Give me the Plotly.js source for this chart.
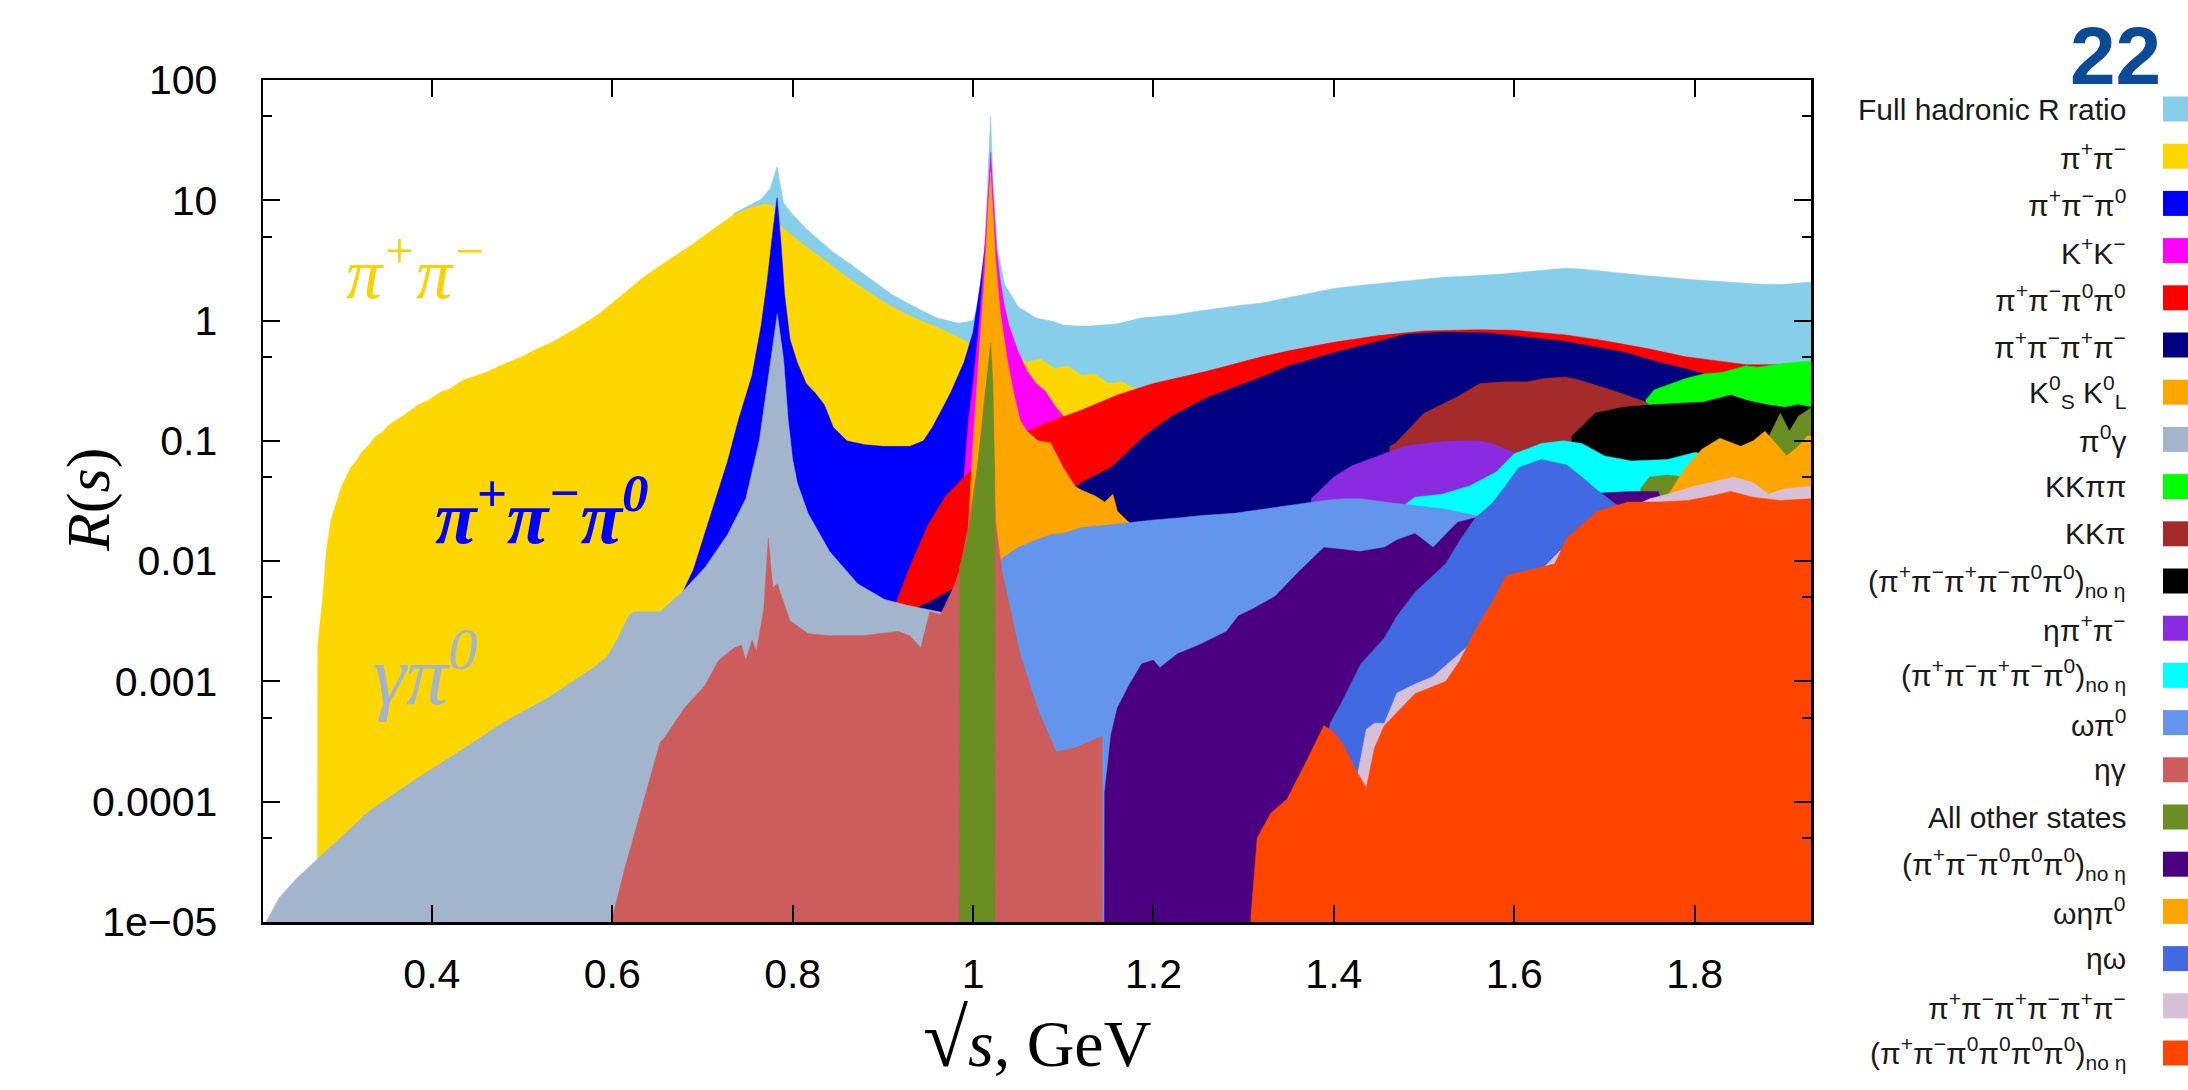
<!DOCTYPE html>
<html><head><meta charset="utf-8">
<script src="https://cdn.plot.ly/plotly-3.0.1.min.js"></script>
<style>html,body{margin:0;padding:0;background:#fff;}#chart{width:2188px;height:1090px;}</style>
</head><body><div id="chart"></div>
<script>
// ---------------- data ----------------
const legendLabels = [
 'Full hadronic R ratio',
 'π<sup>+</sup>π<sup>−</sup>',
 'π<sup>+</sup>π<sup>−</sup>π<sup>0</sup>',
 'K<sup>+</sup>K<sup>−</sup>',
 'π<sup>+</sup>π<sup>−</sup>π<sup>0</sup>π<sup>0</sup>',
 'π<sup>+</sup>π<sup>−</sup>π<sup>+</sup>π<sup>−</sup>',
 'K<sup>0</sup><sub>S</sub> K<sup>0</sup><sub>L</sub>',
 'π<sup>0</sup>γ',
 'KKππ',
 'KKπ',
 '(π<sup>+</sup>π<sup>−</sup>π<sup>+</sup>π<sup>−</sup>π<sup>0</sup>π<sup>0</sup>)<sub>no η</sub>',
 'ηπ<sup>+</sup>π<sup>−</sup>',
 '(π<sup>+</sup>π<sup>−</sup>π<sup>+</sup>π<sup>−</sup>π<sup>0</sup>)<sub>no η</sub>',
 'ωπ<sup>0</sup>',
 'ηγ',
 'All other states',
 '(π<sup>+</sup>π<sup>−</sup>π<sup>0</sup>π<sup>0</sup>π<sup>0</sup>)<sub>no η</sub>',
 'ωηπ<sup>0</sup>',
 'ηω',
 'π<sup>+</sup>π<sup>−</sup>π<sup>+</sup>π<sup>−</sup>π<sup>+</sup>π<sup>−</sup>',
 '(π<sup>+</sup>π<sup>−</sup>π<sup>0</sup>π<sup>0</sup>π<sup>0</sup>π<sup>0</sup>)<sub>no η</sub>'
];
const seriesColors = ['#87ceeb','#ffd700','#0000ff','#ff00ff','#ff0000','#000080','#ffa500','#a2b5cd','#00ff00','#a52a2a','#000000','#8a2be2','#00ffff','#6495ed','#cd5c5c','#6b8e23','#4b0082','#ffa500','#4169e1','#d8bfd8','#ff4500'];

const fullR_x = [0.725,0.735,0.75,0.765,0.775,0.7827,0.79,0.8,0.815,0.83,0.845,0.86,0.885,0.91,0.935,0.96,0.985,1.0,1.008,1.013,1.017,1.0195,1.022,1.027,1.035,1.05,1.07,1.09,1.1,1.115,1.13,1.145,1.16,1.186,1.2,1.225,1.25,1.275,1.3,1.32,1.35,1.375,1.4,1.425,1.455,1.475,1.5,1.525,1.55,1.575,1.59,1.625,1.656,1.675,1.7,1.725,1.75,1.775,1.8,1.825,1.85,1.875,1.9,1.915,1.93];
const fullR_y = [6.0,7.8,8.9,10.2,12.5,19,9.5,7.6,5.8,4.6,3.7,3.1,2.25,1.65,1.3,1.05,0.95,1.0,1.5,4,20,50,15,4,2,1.3,1.05,0.98,0.92,0.9,0.9,0.92,0.94,1.05,1.08,1.12,1.2,1.28,1.35,1.4,1.55,1.7,1.85,1.95,2.05,2.1,2.2,2.3,2.35,2.4,2.45,2.6,2.72,2.68,2.55,2.45,2.35,2.25,2.18,2.12,2.05,2.0,2.0,2.05,2.1];

const pipi_x = [0.2725,0.2735,0.279,0.283,0.288,0.295,0.300,0.305,0.31,0.315,0.322,0.33,0.338,0.345,0.352,0.36,0.37,0.385,0.395,0.41,0.42,0.435,0.45,0.46,0.475,0.485,0.5,0.51,0.525,0.535,0.55,0.56,0.585,0.61,0.635,0.66,0.685,0.71,0.735,0.755,0.77,0.779,0.784,0.79,0.81,0.835,0.86,0.885,0.91,0.935,0.96,0.985,1.0,1.01,1.02,1.03,1.045,1.06,1.075,1.09,1.105,1.12,1.135,1.15,1.165,1.18,1.2,1.25];
const pipi_y = [1e-9,0.002,0.005,0.012,0.022,0.033,0.042,0.05,0.06,0.066,0.08,0.092,0.11,0.118,0.135,0.148,0.165,0.2,0.215,0.255,0.27,0.32,0.35,0.37,0.42,0.45,0.5,0.55,0.62,0.67,0.78,0.86,1.13,1.6,2.3,3.1,4.1,5.6,7.6,8.8,9.3,9.0,6.5,5.8,4.4,3.2,2.3,1.7,1.3,1.05,0.88,0.72,0.62,0.55,0.5,0.55,0.52,0.45,0.48,0.4,0.42,0.35,0.36,0.3,0.31,0.27,0.25,0.2];

const pipipi0_x = [0.6,0.65,0.69,0.71,0.728,0.74,0.755,0.765,0.772,0.778,0.7827,0.787,0.791,0.797,0.805,0.815,0.825,0.835,0.845,0.86,0.88,0.9,0.93,0.945,0.955,0.965,0.975,0.99,1.0,1.008,1.014,1.0195,1.025,1.03,1.04,1.06,1.1,1.2,1.4,1.6,1.8,1.93];
const pipipi0_y = [5e-4,2e-3,0.0085,0.025,0.068,0.15,0.35,0.9,2.2,5.5,10.5,4.5,1.66,0.7,0.45,0.3,0.25,0.2,0.13,0.1,0.093,0.09,0.09,0.1,0.13,0.18,0.25,0.45,0.8,2.0,4.5,7,2,0.5,0.2,0.1,0.07,0.05,0.04,0.05,0.02,0.015];

const kk_x = [0.988,0.99,0.995,1.0,1.005,1.008,1.013,1.017,1.0195,1.022,1.026,1.03,1.035,1.04,1.05,1.06,1.07,1.08,1.09,1.1,1.12,1.2,1.5,1.93];
const kk_y = [1e-9,0.05,0.15,0.3,0.7,1.2,4,14,25,12,4,2.2,1.3,0.9,0.55,0.38,0.3,0.26,0.2,0.16,0.13,0.1,0.05,0.03];

const pipi2pi0_x = [0.91,0.912,0.93,0.95,0.97,0.99,1.02,1.05,1.08,1.12,1.16,1.2,1.26,1.32,1.35,1.4,1.45,1.5,1.56,1.6,1.657,1.7,1.75,1.79,1.857,1.9,1.93];
const pipi2pi0_y = [1e-9,0.004,0.009,0.02,0.035,0.05,0.08,0.11,0.14,0.18,0.24,0.3,0.38,0.5,0.56,0.66,0.75,0.82,0.84,0.83,0.76,0.68,0.58,0.5,0.43,0.43,0.44];

const fourpi_x = [0.913,0.915,0.95,0.98,1.0,1.03,1.06,1.09,1.12,1.153,1.19,1.22,1.26,1.32,1.35,1.4,1.455,1.48,1.52,1.57,1.62,1.657,1.724,1.76,1.8,1.82,1.85,1.9,1.93];
const fourpi_y = [1e-9,0.0035,0.0045,0.006,0.008,0.01,0.018,0.03,0.045,0.06,0.11,0.16,0.23,0.34,0.42,0.54,0.69,0.77,0.8,0.79,0.72,0.67,0.54,0.45,0.38,0.34,0.3,0.25,0.22];

const kskl_x = [0.993,0.995,1.0,1.005,1.008,1.013,1.017,1.0195,1.022,1.025,1.03,1.038,1.045,1.052,1.06,1.072,1.086,1.1,1.113,1.12,1.135,1.146,1.155,1.16,1.173,1.18,1.185];
const kskl_y = [1e-9,0.02,0.1,0.35,0.7,2.5,9,17,8,3.2,1.2,0.47,0.25,0.15,0.12,0.1,0.096,0.06,0.042,0.039,0.035,0.031,0.036,0.026,0.021,0.012,1e-9];

const pi0gamma_x = [0.2128,0.231,0.25,0.281,0.33,0.38,0.43,0.48,0.529,0.579,0.594,0.605,0.619,0.625,0.653,0.678,0.703,0.728,0.748,0.763,0.7756,0.783,0.79,0.795,0.8,0.805,0.817,0.841,0.872,0.902,0.927,0.96,0.985,1.005,1.013,1.0195,1.025,1.035,1.06,1.2,1.5,1.93];
const pi0gamma_y = [9e-6,1.6e-5,2.3e-5,3.8e-5,8.3e-5,1.5e-4,2.6e-4,4.6e-4,7.3e-4,1.3e-3,1.6e-3,2.2e-3,3.6e-3,3.8e-3,3.8e-3,5.6e-3,8.9e-3,0.0167,0.033,0.1,0.47,1.14,0.47,0.15,0.07,0.045,0.025,0.012,6.5e-3,4.8e-3,4.3e-3,3.8e-3,3.5e-3,5e-3,0.015,0.06,0.012,3.5e-3,3e-3,2e-3,1e-3,6e-4];

const kkpipi_x = [1.74,1.746,1.755,1.77,1.79,1.81,1.83,1.857,1.87,1.89,1.91,1.93];
const kkpipi_y = [1e-9,0.22,0.265,0.29,0.33,0.36,0.37,0.42,0.41,0.43,0.45,0.46];

const kkpi_x = [1.46,1.462,1.468,1.5,1.536,1.562,1.59,1.614,1.633,1.657,1.672,1.711,1.746,1.76,1.8,1.93];
const kkpi_y = [1e-9,0.09,0.095,0.17,0.23,0.3,0.31,0.31,0.33,0.34,0.32,0.26,0.21,0.17,0.15,0.12];

const sixpi2pi0_x = [1.66,1.664,1.69,1.72,1.755,1.78,1.81,1.84,1.86,1.88,1.9,1.915,1.93];
const sixpi2pi0_y = [1e-9,0.11,0.17,0.19,0.2,0.205,0.21,0.24,0.215,0.2,0.19,0.2,0.19];

const etapipi_x = [1.37,1.375,1.4,1.42,1.443,1.478,1.51,1.536,1.56,1.575,1.6,1.65,1.7,1.8,1.93];
const etapipi_y = [1e-9,0.033,0.05,0.062,0.072,0.09,0.097,0.1,0.1,0.095,0.08,0.06,0.045,0.03,0.02];

const fivepi_x = [1.47,1.48,1.49,1.52,1.55,1.58,1.6,1.63,1.655,1.675,1.7,1.73,1.77,1.8,1.83,1.86,1.93];
const fivepi_y = [1e-9,0.03,0.034,0.036,0.042,0.055,0.078,0.095,0.1,0.095,0.075,0.068,0.07,0.08,0.075,0.06,0.05];

const omegapi0_x = [0.95,0.96,0.98,1.0,1.02,1.032,1.05,1.07,1.086,1.1,1.12,1.15,1.173,1.2,1.23,1.254,1.29,1.32,1.35,1.389,1.41,1.43,1.456,1.49,1.524,1.557,1.6,1.7,1.93];
const omegapi0_y = [1e-9,5e-4,1.5e-3,3e-3,6e-3,0.0105,0.013,0.015,0.0166,0.017,0.019,0.02,0.021,0.022,0.023,0.024,0.025,0.027,0.029,0.032,0.033,0.033,0.031,0.029,0.027,0.024,0.02,0.012,0.006];

const etagamma_x = [0.598,0.599,0.614,0.629,0.643,0.653,0.658,0.68,0.703,0.718,0.735,0.743,0.748,0.755,0.76,0.768,0.773,0.778,0.783,0.79,0.797,0.805,0.817,0.84,0.877,0.917,0.93,0.942,0.952,0.964,0.978,0.985,0.995,1.005,1.012,1.0195,1.025,1.032,1.052,1.072,1.092,1.113,1.13,1.143,1.1435];
const etagamma_y = [1e-9,1e-5,2.8e-5,7e-5,1.6e-4,3.1e-4,3.4e-4,6e-4,9.3e-4,1.5e-3,1.9e-3,2.0e-3,1.5e-3,2.2e-3,1.8e-3,4e-3,0.0155,6e-3,6.5e-3,4.5e-3,3.2e-3,2.9e-3,2.5e-3,2.4e-3,2.4e-3,2.6e-3,2.4e-3,1.9e-3,3.8e-3,3.6e-3,6e-3,8.3e-3,0.02,0.06,0.2,0.6,0.021,8.3e-3,1.7e-3,5.8e-4,2.6e-4,2.8e-4,3.2e-4,3.5e-4,1e-9];

const other_x = [0.9845,0.985,0.99,0.995,1.0,1.005,1.01,1.015,1.0195,1.022,1.024,1.0245,1.735,1.74,1.75,1.77,1.79,1.8,1.85,1.88,1.895,1.905,1.915,1.925,1.93];
const other_y = [1e-9,0.009,0.012,0.018,0.03,0.06,0.13,0.3,0.65,0.3,0.05,1e-9,1e-9,0.04,0.05,0.052,0.05,0.05,0.06,0.1,0.17,0.12,0.16,0.18,0.19];

const pipi3pi0_x = [1.1445,1.146,1.153,1.16,1.173,1.187,1.2,1.207,1.227,1.25,1.281,1.294,1.31,1.335,1.36,1.389,1.41,1.429,1.456,1.47,1.49,1.51,1.537,1.557,1.6,1.65,1.7,1.73,1.76,1.77,1.93];
const pipi3pi0_y = [1e-9,1.2e-4,3.6e-4,6e-4,9.3e-4,1.4e-3,1.5e-3,1.3e-3,1.7e-3,2.0e-3,2.6e-3,3.5e-3,4e-3,5.1e-3,8e-3,0.013,0.0125,0.012,0.013,0.015,0.017,0.013,0.021,0.023,0.03,0.034,0.037,0.038,0.038,0.02,0.015];

const omegaetapi0_x = [1.76,1.77,1.79,1.808,1.828,1.851,1.865,1.878,1.89,1.902,1.915,1.925,1.93];
const omegaetapi0_y = [1e-9,0.035,0.06,0.085,0.105,0.09,0.1,0.12,0.095,0.075,0.09,0.11,0.11];

const etaomega_x = [1.38,1.385,1.396,1.41,1.43,1.456,1.47,1.49,1.524,1.54,1.557,1.575,1.59,1.605,1.63,1.658,1.675,1.69,1.712,1.74,1.8,1.93];
const etaomega_y = [1e-9,2e-4,4.5e-4,7e-4,1.4e-3,2.3e-3,3.5e-3,5.5e-3,9.5e-3,0.015,0.023,0.03,0.042,0.06,0.07,0.063,0.05,0.04,0.03,0.022,0.015,0.01];

const sixpi_x = [1.4,1.41,1.425,1.436,1.445,1.456,1.47,1.49,1.51,1.55,1.6,1.65,1.7,1.75,1.77,1.8,1.843,1.865,1.882,1.9,1.93];
const sixpi_y = [1e-9,1e-4,1.5e-4,4e-4,4.5e-4,4.5e-4,8e-4,9.5e-4,1.1e-3,2e-3,5e-3,0.012,0.022,0.033,0.036,0.042,0.05,0.045,0.036,0.04,0.042];

const pipi4pi0_x = [1.307,1.308,1.315,1.33,1.348,1.37,1.389,1.4,1.41,1.425,1.436,1.445,1.456,1.475,1.49,1.524,1.54,1.557,1.575,1.591,1.62,1.645,1.658,1.675,1.692,1.726,1.76,1.793,1.82,1.84,1.865,1.894,1.93];
const pipi4pi0_y = [1e-9,1.1e-5,5e-5,8e-5,1.05e-4,2.2e-4,4.3e-4,3.8e-4,3e-4,1.8e-4,1.3e-4,2.8e-4,4.3e-4,6e-4,7.9e-4,1e-3,1.5e-3,2.7e-3,4.5e-3,7.6e-3,8.5e-3,9.5e-3,0.0155,0.02,0.026,0.031,0.031,0.032,0.035,0.038,0.034,0.032,0.033];

const yTickVals = [1e-5,1e-4,1e-3,1e-2,0.1,1,10,100];
const yTickText = ['1e−05','0.0001','0.001','0.01','0.1','1','10','100'];
const yMinorVals = [5e-5,5e-4,5e-3,0.05,0.5,5,50];

// ---------------- build ----------------
const xs = [fullR_x,pipi_x,pipipi0_x,kk_x,pipi2pi0_x,fourpi_x,kskl_x,pi0gamma_x,kkpipi_x,kkpi_x,sixpi2pi0_x,etapipi_x,fivepi_x,omegapi0_x,etagamma_x,other_x,pipi3pi0_x,omegaetapi0_x,etaomega_x,sixpi_x,pipi4pi0_x];
const ys = [fullR_y,pipi_y,pipipi0_y,kk_y,pipi2pi0_y,fourpi_y,kskl_y,pi0gamma_y,kkpipi_y,kkpi_y,sixpi2pi0_y,etapipi_y,fivepi_y,omegapi0_y,etagamma_y,other_y,pipi3pi0_y,omegaetapi0_y,etaomega_y,sixpi_y,pipi4pi0_y];

const traces = xs.map((x,i)=>({
  type:'scatter', mode:'lines', x:x, y:ys[i], name:legendLabels[i],
  fill:'tozeroy', fillcolor:seriesColors[i],
  line:{color:seriesColors[i], width:0.5}, hoverinfo:'skip', showlegend:false
}));

const W=2188,H=1090,ML=263,MR=377,MT=80,MB=168;
const PW=W-ML-MR, PH=H-MT-MB;
const px2x = p => (p-ML)/PW;
const px2y = p => 1-(p-MT)/PH;

const annotations = [];
const shapes = [];
legendLabels.forEach((lab,i)=>{
  const py = 109 + 47.2*i;
  annotations.push({xref:'paper',yref:'paper',x:px2x(2128),y:px2y(py),xanchor:'right',yanchor:'middle',
    text:lab,showarrow:false,font:{family:'Liberation Sans, Arial, sans-serif',size:30,color:'#1a1a1a'}});
  shapes.push({type:'rect',xref:'paper',yref:'paper',x0:px2x(2163),x1:px2x(2192),y0:px2y(py-12.5),y1:px2y(py+12.5),
    fillcolor:seriesColors[i],line:{width:0},layer:'above'});
});
// page number
annotations.push({xref:'paper',yref:'paper',x:px2x(2115),y:px2y(8),xanchor:'center',yanchor:'top',
  text:'<b>22</b>',showarrow:false,font:{family:'Liberation Sans, Arial, sans-serif',size:82,color:'#0b4a97'}});
// axis titles
annotations.push({xref:'paper',yref:'paper',x:0.5,y:px2y(1086),xanchor:'center',yanchor:'bottom',showarrow:false,
  text:'<span style="font-size:82px">√</span><i>s</i>, GeV',font:{family:'Liberation Serif, serif',size:66,color:'#000'}});
annotations.push({xref:'paper',yref:'paper',x:px2x(88),y:px2y(500),xanchor:'center',yanchor:'middle',showarrow:false,textangle:-90,
  text:'<i>R</i>(<i>s</i>)',font:{family:'Liberation Serif, serif',size:62,color:'#000'}});
// in-plot channel labels
annotations.push({xref:'x',yref:'y',x:0.382,y:Math.log10(2.73),xanchor:'center',yanchor:'middle',showarrow:false,
  text:'<i>π<sup>+</sup>π<sup>−</sup></i>',font:{family:'Liberation Serif, serif',size:72,color:'#f9d300'}});
annotations.push({xref:'x',yref:'y',x:0.522,y:Math.log10(0.026),xanchor:'center',yanchor:'middle',showarrow:false,
  text:'<b><i>π<sup>+</sup>π<sup>−</sup>π<sup>0</sup></i></b>',font:{family:'Liberation Serif, serif',size:76,color:'#0000ff'}});
annotations.push({xref:'x',yref:'y',x:0.393,y:Math.log10(1.25e-3),xanchor:'center',yanchor:'middle',showarrow:false,
  text:'<i>γπ<sup>0</sup></i>',font:{family:'Liberation Serif, serif',size:84,color:'#a2b5cd'}});

const axisCommon = {showline:true,linecolor:'#000',linewidth:2.5,mirror:'ticks',ticks:'inside',ticklen:17,tickwidth:2,
  tickcolor:'#000',showgrid:false,zeroline:false,automargin:false,
  tickfont:{family:'Liberation Sans, Arial, sans-serif',size:41,color:'#000'}};

const layout = {
  width:W,height:H,margin:{l:ML,r:MR,t:MT,b:MB,pad:0},
  paper_bgcolor:'#fff',plot_bgcolor:'#fff',
  font:{family:'Liberation Sans, Arial, sans-serif'},
  xaxis:Object.assign({},axisCommon,{range:[0.2128,1.929],tickmode:'linear',tick0:0.4,dtick:0.2,ticklabelstandoff:14}),
  yaxis:Object.assign({},axisCommon,{type:'log',range:[-5,2],tickmode:'array',tickvals:yTickVals,ticktext:yTickText,ticklabelstandoff:35,
    minor:{tickmode:'array',tickvals:yMinorVals,ticks:'inside',ticklen:9,tickwidth:2,tickcolor:'#000',showgrid:false}}),
  annotations:annotations, shapes:shapes, showlegend:false
};

Plotly.newPlot('chart',traces,layout,{staticPlot:true,displayModeBar:false});
</script></body></html>
